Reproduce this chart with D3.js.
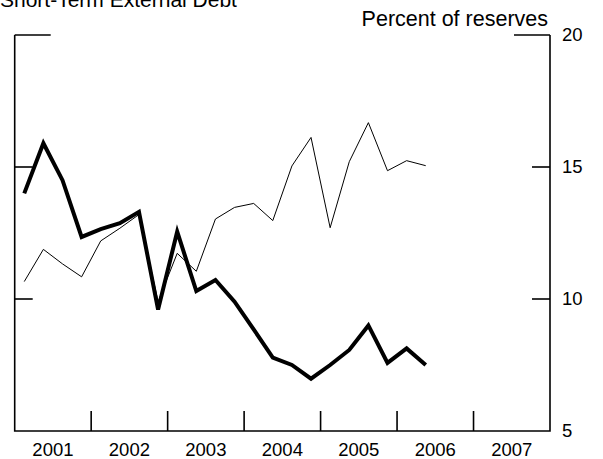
<!DOCTYPE html>
<html>
<head>
<meta charset="utf-8">
<script src="https://cdn.jsdelivr.net/npm/d3@7"></script>
<style>
  body { margin: 0; background: #fff; }
  svg text { font-family: "Liberation Sans", Arial, sans-serif; fill: #000; }
</style>
</head>
<body>
<script>
// Quarterly data, 2001 Q1 through 2006 Q2
var years = [2001, 2002, 2003, 2004, 2005, 2006, 2007]
var thickSeries = [14.0, 15.9, 14.5, 12.35,
                   12.65, 12.87, 13.3, 9.6,
                   12.55, 10.3, 10.72, 9.9,
                   8.85, 7.78, 7.5, 6.98,
                   7.5, 8.07, 9.0, 7.58,
                   8.13, 7.5]
var thinSeries = [10.66, 11.88, 11.33, 10.84,
                  12.2, 12.68, 13.2, 9.9,
                  11.73, 11.05, 13.03, 13.47,
                  13.62, 12.97, 15.04, 16.12,
                  12.7, 15.2, 16.68, 14.86,
                  15.24, 15.05]
var yTicks = [5, 10, 15, 20]

var W = 603, H = 459
var margin = {left: 14.7, right: 550, top: 35, bottom: 431}

var svg = d3.select("body").append("svg")
    .attr("width", W)
    .attr("height", H)

var x = d3.scaleLinear().domain([2001, 2008]).range([margin.left, margin.right])
var y = d3.scaleLinear().domain([5, 20]).range([margin.bottom, margin.top])

function qx(i) { return x(2001 + (i + 0.5) / 4) }

// Title (cut off at top in the original)
svg.append("text")
    .attr("x", 0)
    .attr("y", 7)
    .style("font-size", "21px")
    .text("Short-Term External Debt")

svg.append("text")
    .attr("x", 548)
    .attr("y", 26)
    .attr("text-anchor", "end")
    .style("font-size", "21.5px")
    .text("Percent of reserves")

// Frame
var frame = svg.append("g").attr("stroke", "#000").attr("stroke-width", 1.6).attr("fill", "none")
frame.append("path")
    .attr("d", "M" + x(2001) + "," + y(20) + "V" + y(5) + "H" + x(2008) + "V" + y(20))

// Y ticks on both sides (top one longer)
yTicks.filter(function(d) { return d > 5 }).forEach(function(d) {
  var len = d === 20 ? 36 : 18
  frame.append("line").attr("x1", x(2001)).attr("x2", x(2001) + len).attr("y1", y(d)).attr("y2", y(d))
  frame.append("line").attr("x1", x(2008) - len).attr("x2", x(2008)).attr("y1", y(d)).attr("y2", y(d))
})

// Year boundary ticks
years.slice(1).forEach(function(yr) {
  frame.append("line").attr("x1", x(yr)).attr("x2", x(yr)).attr("y1", y(5)).attr("y2", y(5) - 20)
})

// Year labels
svg.selectAll(".year").data(years).enter().append("text")
    .attr("class", "year")
    .attr("x", function(d) { return x(d + 0.5) })
    .attr("y", 456)
    .attr("text-anchor", "middle")
    .style("font-size", "18.5px")
    .text(function(d) { return d })

// Right axis labels
svg.selectAll(".ylab").data(yTicks).enter().append("text")
    .attr("class", "ylab")
    .attr("x", 562)
    .attr("y", function(d) { return y(d) + 6 })
    .style("font-size", "18.5px")
    .text(function(d) { return d })

var line = d3.line()
    .x(function(d, i) { return qx(i) })
    .y(function(d) { return y(d) })

svg.append("path")
    .datum(thinSeries)
    .attr("fill", "none")
    .attr("stroke", "#000")
    .attr("stroke-width", 1)
    .attr("d", line)

svg.append("path")
    .datum(thickSeries)
    .attr("fill", "none")
    .attr("stroke", "#000")
    .attr("stroke-width", 4)
    .attr("stroke-linejoin", "miter")
    .attr("d", line)
</script>
</body>
</html>
